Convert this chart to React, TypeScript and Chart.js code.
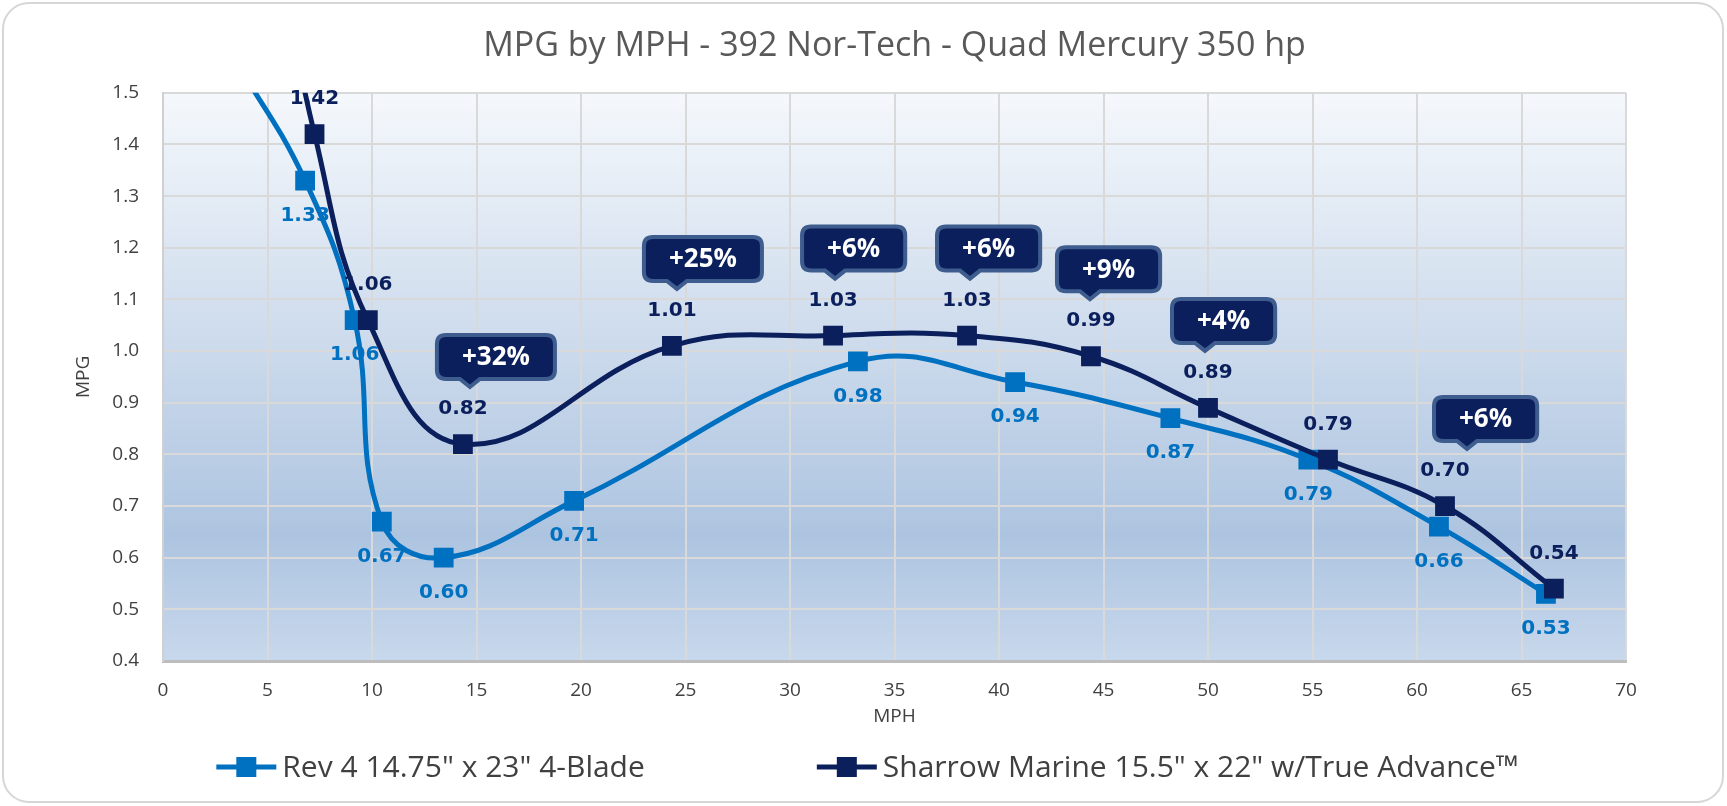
import React, { useEffect, useRef } from 'react';
import { Chart, registerables } from 'chart.js';

Chart.register(...registerables);

// Rev 4 14.75" x 23" 4-Blade (first point sits above the 1.5 axis limit)
const rev4Mph = [3.2, 6.8, 9.17, 10.47, 13.43, 19.67, 33.25, 40.77, 48.2, 54.8, 61.05, 66.17];
const rev4Mpg = [1.58, 1.33, 1.06, 0.67, 0.6, 0.71, 0.98, 0.94, 0.87, 0.79, 0.66, 0.53];

// Sharrow Marine 15.5" x 22" w/True Advance
const sharrowMph = [5.5, 7.25, 9.8, 14.35, 24.35, 32.06, 38.47, 44.4, 50.0, 55.74, 61.34, 66.55];
const sharrowMpg = [1.77, 1.42, 1.06, 0.82, 1.01, 1.03, 1.03, 0.99, 0.89, 0.79, 0.7, 0.54];

// gain call-outs, attached to Sharrow points
const gainText = ['+32%', '+25%', '+6%', '+6%', '+9%', '+4%', '+6%'];
const gainPoint = [3, 4, 5, 6, 7, 8, 10];
const gainTailShift = [7, 5, 2, 3, -1, -3, 22];

const seriesNames = ['Rev 4 14.75" x 23" 4-Blade', 'Sharrow Marine 15.5" x 22" w/True Advance™'];
const REV_COLOR = '#0070c0';
const SHARROW_COLOR = '#0b1f5c';
const Y_MIN = 0.4;
const Y_MAX = 1.5;

const toPoints = (xs: number[], ys: number[]) => xs.map((x, i) => ({ x, y: ys[i] }));

const frame = {
  id: 'frame',
  beforeDraw(chart: Chart) {
    const { ctx, chartArea: a, width, height } = chart;
    ctx.save();
    ctx.fillStyle = '#ffffff';
    ctx.fillRect(0, 0, width, height);
    ctx.beginPath();
    ctx.roundRect(3, 3, width - 7, height - 7, 26);
    ctx.strokeStyle = '#d6d6d6';
    ctx.lineWidth = 2;
    ctx.stroke();
    const g = ctx.createLinearGradient(0, a.top, 0, a.bottom);
    g.addColorStop(0, '#f5f8fc');
    g.addColorStop(0.78, '#adc4e0');
    g.addColorStop(1, '#c8d8ec');
    ctx.fillStyle = g;
    ctx.fillRect(a.left, a.top, a.right - a.left, a.bottom - a.top);
    ctx.restore();
  },
};

const valueLabels = {
  id: 'valueLabels',
  afterDatasetDraw(chart: Chart, args: any) {
    const { ctx } = chart;
    const di = args.index;
    const ds: any = chart.data.datasets[di];
    const meta = chart.getDatasetMeta(di);
    const above = di === 1;
    ctx.save();
    ctx.font = 'bold 20px "DejaVu Sans"';
    ctx.textAlign = 'center';
    ctx.textBaseline = 'middle';
    ctx.fillStyle = ds.borderColor;
    meta.data.forEach((pt: any, i: number) => {
      const v = ds.data[i].y;
      if (v > Y_MAX) return;
      ctx.fillText(v.toFixed(2), pt.x, pt.y + (above ? -35 : 35));
    });
    ctx.restore();
  },
};

const callouts = {
  id: 'callouts',
  afterDraw(chart: Chart) {
    const { ctx } = chart;
    const meta = chart.getDatasetMeta(1);
    ctx.save();
    ctx.font = 'bold 26px "Open Sans"';
    gainText.forEach((text, k) => {
      const pt: any = meta.data[gainPoint[k]];
      const tipX = pt.x + gainTailShift[k];
      const tipY = pt.y - 57;
      const w = ctx.measureText(text).width + 50;
      const h = 44;
      const left = tipX - 33;
      const bottom = tipY - 8;
      const top = bottom - h;
      const right = left + w;
      const r = 9;
      ctx.beginPath();
      ctx.moveTo(left + r, top);
      ctx.lineTo(right - r, top);
      ctx.quadraticCurveTo(right, top, right, top + r);
      ctx.lineTo(right, bottom - r);
      ctx.quadraticCurveTo(right, bottom, right - r, bottom);
      ctx.lineTo(tipX + 10, bottom);
      ctx.lineTo(tipX, tipY);
      ctx.lineTo(tipX - 10, bottom);
      ctx.lineTo(left + r, bottom);
      ctx.quadraticCurveTo(left, bottom, left, bottom - r);
      ctx.lineTo(left, top + r);
      ctx.quadraticCurveTo(left, top, left + r, top);
      ctx.closePath();
      ctx.fillStyle = SHARROW_COLOR;
      ctx.fill();
      ctx.strokeStyle = '#3e5d8e';
      ctx.lineWidth = 4;
      ctx.stroke();
      ctx.fillStyle = '#ffffff';
      ctx.textAlign = 'center';
      ctx.textBaseline = 'middle';
      ctx.fillText(text, left + w / 2, top + h / 2 + 1);
    });
    ctx.restore();
  },
};

const bottomLegend = {
  id: 'bottomLegend',
  afterDraw(chart: Chart) {
    const { ctx, width } = chart;
    const colors = [REV_COLOR, SHARROW_COLOR];
    const markerW = 60;
    const gap = 6;
    const sep = 172;
    const y = 767;
    ctx.save();
    ctx.font = '30px "Open Sans"';
    const widths = seriesNames.map((n) => markerW + gap + ctx.measureText(n).width);
    const total = widths[0] + sep + widths[1];
    let x = width / 2 + 4 - total / 2;
    seriesNames.forEach((name, i) => {
      ctx.strokeStyle = colors[i];
      ctx.lineWidth = 5;
      ctx.beginPath();
      ctx.moveTo(x, y);
      ctx.lineTo(x + markerW, y);
      ctx.stroke();
      ctx.fillStyle = colors[i];
      ctx.fillRect(x + markerW / 2 - 10, y - 10, 20, 20);
      ctx.fillStyle = '#404040';
      ctx.textAlign = 'left';
      ctx.textBaseline = 'middle';
      ctx.fillText(name, x + markerW + gap, y + 1);
      x += widths[i] + sep;
    });
    ctx.restore();
  },
};

export default function App() {
  const canvasRef = useRef<HTMLCanvasElement>(null);
  const chartInstance = useRef<Chart | null>(null);

  useEffect(() => {
    if (!canvasRef.current) return;
    const ctx = canvasRef.current.getContext('2d');
    if (!ctx) return;

    Chart.defaults.font.family = '"Open Sans", sans-serif';

    const lineSet = (label: string, data: { x: number; y: number }[], color: string, order: number) => ({
      label,
      data,
      borderColor: color,
      backgroundColor: color,
      borderWidth: 5,
      pointStyle: 'rect' as const,
      pointRadius: 14,
      pointBorderWidth: 0,
      pointBackgroundColor: color,
      tension: 0.42,
      clip: 0,
      order,
    });

    chartInstance.current = new Chart(ctx, {
      type: 'line',
      data: {
        datasets: [
          lineSet(seriesNames[0], toPoints(rev4Mph, rev4Mpg), REV_COLOR, 2),
          lineSet(seriesNames[1], toPoints(sharrowMph, sharrowMpg), SHARROW_COLOR, 1),
        ],
      },
      options: {
        responsive: false,
        animation: false,
        layout: { padding: { top: 10, left: 20, right: 101, bottom: 75 } },
        elements: { line: { capBezierPoints: false } },
        scales: {
          x: {
            type: 'linear',
            min: 0,
            max: 70,
            ticks: { stepSize: 5, padding: 18, color: '#404040', font: { size: 19 } },
            grid: { color: '#d9d9d9', lineWidth: 2, drawTicks: false },
            border: { color: '#bdbdbd', width: 3 },
            title: { display: true, text: 'MPH', color: '#404040', font: { size: 19 }, padding: { top: 0, bottom: 3 } },
            afterFit: (scale: any) => {
              scale.height = 70;
            },
          },
          y: {
            min: Y_MIN,
            max: Y_MAX,
            ticks: {
              stepSize: 0.1,
              padding: 24,
              color: '#404040',
              font: { size: 19 },
              callback: (v: any) => Number(v).toFixed(1),
            },
            grid: { color: '#d9d9d9', lineWidth: 2, drawTicks: false },
            border: { color: '#d0d0d0', width: 2 },
            title: { display: true, text: 'MPG', color: '#404040', font: { size: 19 }, padding: { top: 52, bottom: 0 } },
            afterFit: (scale: any) => {
              scale.width = 143;
            },
          },
        },
        plugins: {
          legend: { display: false },
          tooltip: { enabled: false },
          title: {
            display: true,
            fullSize: false,
            text: 'MPG by MPH - 392 Nor-Tech - Quad Mercury 350 hp',
            color: '#595959',
            font: { size: 34, weight: 'normal' },
            padding: { top: 16, bottom: 26 },
          },
        },
      },
      plugins: [frame, valueLabels, callouts, bottomLegend],
    });

    return () => {
      chartInstance.current?.destroy();
    };
  }, []);

  return (
    <div style={{ position: 'absolute', left: 0, top: 0, width: 1727, height: 806 }}>
      <canvas ref={canvasRef} width={1727} height={806} />
    </div>
  );
}
